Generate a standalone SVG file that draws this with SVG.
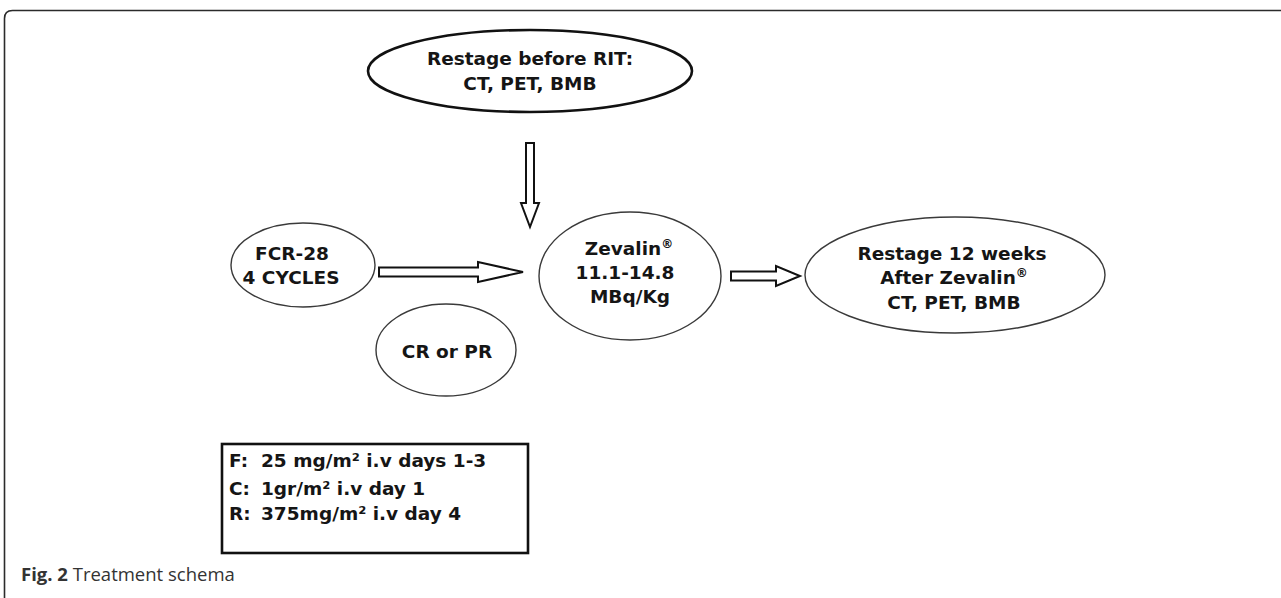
<svg xmlns="http://www.w3.org/2000/svg" width="1281" height="598" viewBox="0 0 1281 598">
<style>
.bg{fill:#ffffff}
.frame{fill:none;stroke:#2b2b2b;stroke-width:1.6}
.ell{fill:#ffffff;stroke:#3a3a3a;stroke-width:1.4}
.ellb{fill:#ffffff;stroke:#111111;stroke-width:2.6}
.box{fill:#ffffff;stroke:#111111;stroke-width:2.6}
.arrow{fill:#ffffff;stroke:#111111;stroke-width:2;stroke-linejoin:miter}
.t{font-family:"DejaVu Sans","Liberation Sans",sans-serif;font-weight:bold;font-size:18.5px;fill:#151515;text-anchor:middle}
.tl{font-family:"DejaVu Sans","Liberation Sans",sans-serif;font-weight:bold;font-size:18.5px;fill:#151515}
.cap{font-family:"Open Sans","Liberation Sans",sans-serif;font-size:18.5px;fill:#333333}
</style>
<rect class="bg" x="0" y="0" width="1281" height="598"/>
<path class="frame" d="M4.5,598 V18.5 Q4.5,10.5 12.5,10.5 H1281"/>

<g id="connectors">
  <path class="arrow" d="M526,143 H534 V203 H539 L530,227 L521,203 H526 Z"/>
  <path class="arrow" d="M379,267.5 H478 V262 L523,272 L478,282 V276.5 H379 Z"/>
  <path class="arrow" d="M731,271.5 H776 V266 L800,276 L776,286 V280.5 H731 Z"/>
</g>

<g id="node-restage-before">
  <ellipse class="ellb" cx="530" cy="71" rx="162" ry="41"/>
  <text class="t" x="530" y="65">Restage before RIT:</text>
  <text class="t" x="530" y="90">CT, PET, BMB</text>
</g>

<g id="node-fcr">
  <ellipse class="ell" cx="303" cy="265" rx="72" ry="42"/>
  <text class="t" x="292" y="260">FCR-28</text>
  <text class="t" x="291" y="284">4 CYCLES</text>
</g>

<g id="node-zevalin">
  <ellipse class="ell" cx="630" cy="276" rx="91" ry="64"/>
  <text class="t" x="629" y="255">Zevalin<tspan font-size="12" dy="-7">®</tspan></text>
  <text class="t" x="625" y="279">11.1-14.8</text>
  <text class="t" x="630" y="303">MBq/Kg</text>
</g>

<g id="node-crpr">
  <ellipse class="ell" cx="446" cy="350" rx="70" ry="46"/>
  <text class="t" x="447" y="358">CR or PR</text>
</g>

<g id="node-restage-after">
  <ellipse class="ell" cx="955" cy="275" rx="150" ry="58"/>
  <text class="t" x="952" y="260">Restage 12 weeks</text>
  <text class="t" x="954" y="284">After Zevalin<tspan font-size="12" dy="-7">®</tspan></text>
  <text class="t" x="954" y="309">CT, PET, BMB</text>
</g>

<g id="node-dosing">
  <rect class="box" x="222" y="444" width="306" height="109"/>
  <text class="tl" x="229" y="467">F:<tspan x="261">25 mg/m² i.v days 1-3</tspan></text>
  <text class="tl" x="229" y="495">C:<tspan x="261">1gr/m² i.v day 1</tspan></text>
  <text class="tl" x="229" y="520">R:<tspan x="261">375mg/m² i.v day 4</tspan></text>
</g>

<g id="caption">
  <text class="cap" x="21" y="581"><tspan font-weight="bold">Fig. 2</tspan> Treatment schema</text>
</g>
</svg>
